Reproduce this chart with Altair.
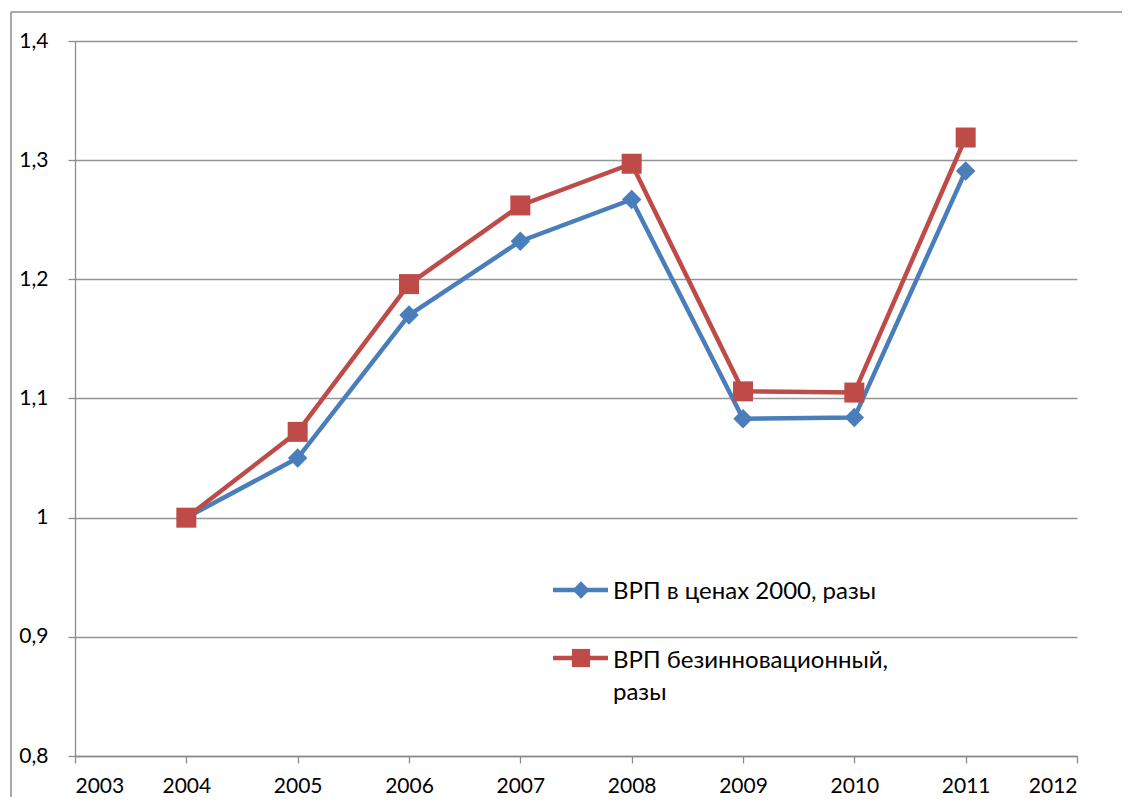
import altair as alt
import pandas as pd

years = [2004, 2005, 2006, 2007, 2008, 2009, 2010, 2011]
vrp_2000 = [1.000, 1.050, 1.170, 1.232, 1.267, 1.083, 1.084, 1.291]
vrp_noinnov = [1.000, 1.072, 1.196, 1.262, 1.297, 1.106, 1.105, 1.319]
series_names = ["ВРП в ценах 2000, разы", "ВРП безинновационный, разы"]
legend_labels = ["ВРП в ценах 2000, разы", "ВРП безинновационный,\nразы"]
x_ticks = list(range(2003, 2013))
y_ticks = [0.8, 0.9, 1.0, 1.1, 1.2, 1.3, 1.4]

BLUE = "#4a7ebb"
RED = "#be4b48"
GRAY = "#8c8c8c"
FONT = "Lato"

df = pd.DataFrame({
    "year": years * 2,
    "value": vrp_2000 + vrp_noinnov,
    "series": [series_names[0]] * len(years) + [series_names[1]] * len(years),
})
one = pd.DataFrame({"k": [0]})

x = alt.X("year:Q",
          scale=alt.Scale(domain=[2003, 2012], nice=False, zero=False),
          axis=alt.Axis(values=x_ticks, format="d", grid=False, title=None,
                        tickSize=7, labelPadding=12, labelFont=FONT, labelFontSize=21,
                        labelColor="black"))
y = alt.Y("value:Q",
          scale=alt.Scale(domain=[0.8, 1.4], nice=False, zero=False),
          axis=alt.Axis(values=y_ticks, grid=True, title=None, tickSize=7,
                        labelPadding=20, labelFont=FONT, labelFontSize=21,
                        labelColor="black",
                        labelExpr="replace(format(datum.value, '.2~g'), '.', ',')"))

base = alt.Chart(df).encode(x=x, y=y)
blue = base.transform_filter(alt.datum.series == series_names[0])
red = base.transform_filter(alt.datum.series == series_names[1])

blue_line = blue.mark_line(color=BLUE, strokeWidth=4.5)
blue_pts = blue.mark_point(shape="diamond", filled=True, color=BLUE, size=380, opacity=1)
red_line = red.mark_line(color=RED, strokeWidth=4.5)
red_pts = red.mark_point(shape="square", filled=True, color=RED, size=400, opacity=1)

# outer chart frame (top and left edges; the rest lies outside the picture)
frame_top = alt.Chart(one).mark_rule(color=GRAY, strokeWidth=1.5).encode(
    x=alt.value(-64), x2=alt.value(1047), y=alt.value(-29))
frame_left = alt.Chart(one).mark_rule(color=GRAY, strokeWidth=1.5).encode(
    x=alt.value(-64), y=alt.value(-29), y2=alt.value(756))

# manual legend
leg_b_line = alt.Chart(one).mark_rule(color=BLUE, strokeWidth=4.5).encode(
    x=alt.value(478), x2=alt.value(533), y=alt.value(549))
leg_b_pt = alt.Chart(one).mark_point(shape="diamond", filled=True, color=BLUE, size=300, opacity=1).encode(
    x=alt.value(506), y=alt.value(549))
leg_b_txt = alt.Chart(one).mark_text(align="left", baseline="middle", font=FONT, fontSize=24,
                                     color="black").encode(
    x=alt.value(538), y=alt.value(551), text=alt.value(legend_labels[0]))
leg_r_line = alt.Chart(one).mark_rule(color=RED, strokeWidth=4.5).encode(
    x=alt.value(478), x2=alt.value(533), y=alt.value(617))
leg_r_pt = alt.Chart(one).mark_point(shape="square", filled=True, color=RED, size=330, opacity=1).encode(
    x=alt.value(506), y=alt.value(617))
leg_r_txt = alt.Chart(one).mark_text(align="left", baseline="middle", font=FONT, fontSize=24,
                                     color="black", lineBreak="\n", lineHeight=32).encode(
    x=alt.value(538), y=alt.value(620), text=alt.value(legend_labels[1]))

chart = alt.layer(
    frame_top, frame_left, blue_line, blue_pts, red_line, red_pts,
    leg_b_line, leg_b_pt, leg_b_txt, leg_r_line, leg_r_pt, leg_r_txt,
).properties(
    width=1002, height=715,
    background="white",
    autosize=alt.AutoSizeParams(type="none"),
    padding={"left": 67, "top": 33, "right": 45, "bottom": 41},
).configure_view(stroke=None).configure_axis(
    domainColor=GRAY, tickColor=GRAY, gridColor="#959595", gridWidth=1.3,
    domainWidth=1.3, tickWidth=1.3,
    labelFont=FONT, labelFontSize=21, labelColor="black",
)

chart.save("out.html", embed_options={"renderer": "svg", "actions": False})
